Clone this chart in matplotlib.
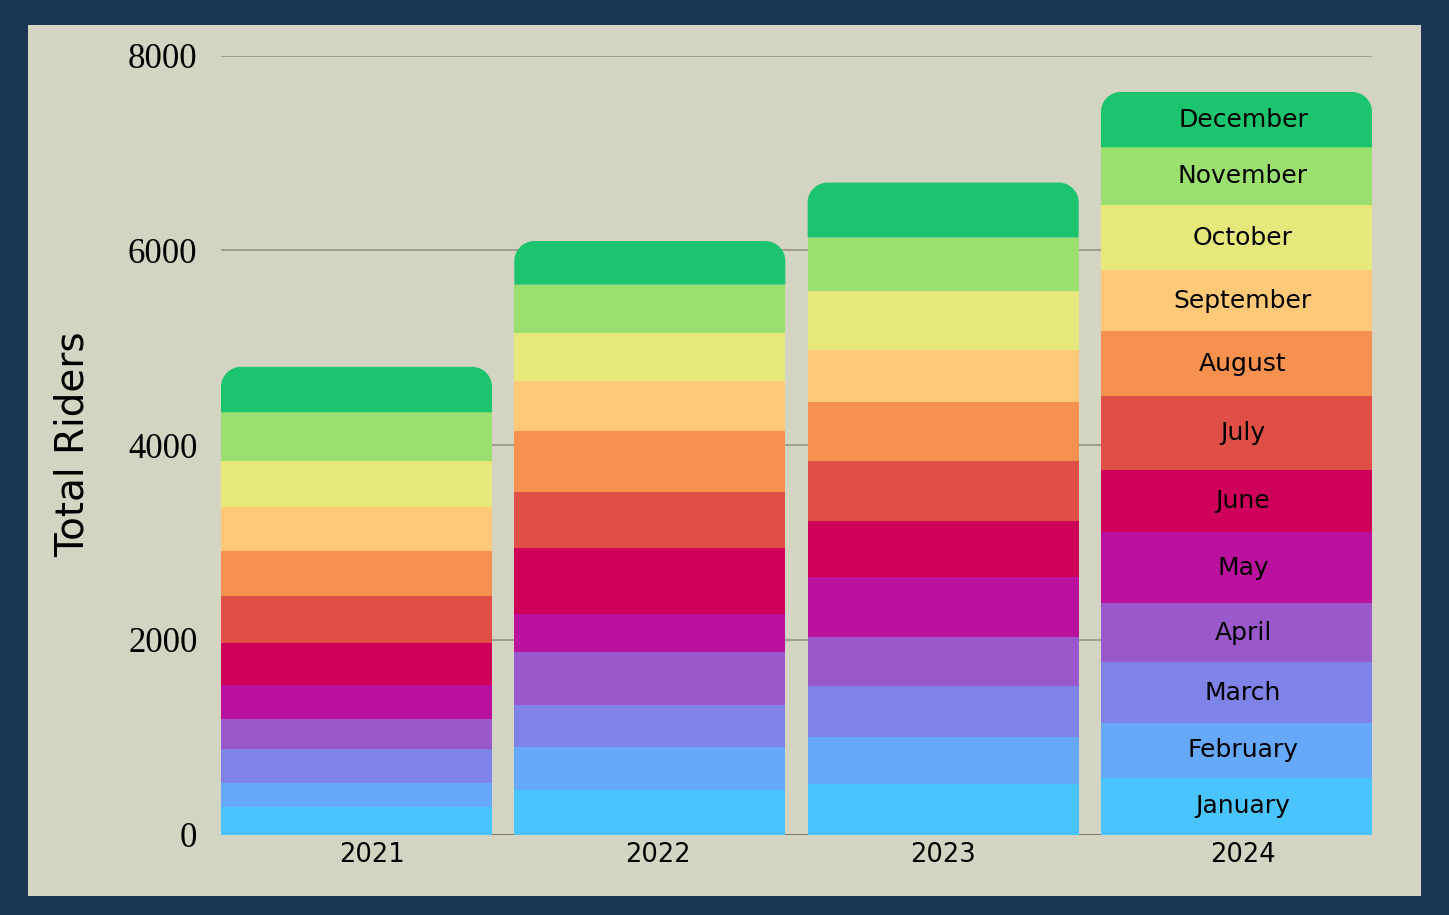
import matplotlib.pyplot as plt
from matplotlib.path import Path
from matplotlib.patches import PathPatch, Rectangle
from matplotlib.transforms import ScaledTranslation
import numpy as np

years = ["2021", "2022", "2023", "2024"]
months = ["January", "February", "March", "April", "May", "June",
          "July", "August", "September", "October", "November", "December"]

# riders per month, one list per year
riders_2021 = [285, 247, 350, 306, 352, 432, 473, 463, 460, 473, 496, 467]
riders_2022 = [456, 440, 432, 548, 388, 680, 576, 624, 512, 496, 496, 448]
riders_2023 = [518, 482, 522, 504, 614, 579, 614, 614, 535, 606, 544, 565]
riders_2024 = [584, 566, 617, 613, 723, 638, 761, 668, 624, 669, 596, 569]

colors = ["#4AC4FE", "#66A8F9", "#7F82E6", "#9A59CB", "#BA119E", "#CF0059",
          "#DF4F46", "#F69150", "#FFC977", "#E6E87B", "#9BE06F", "#1CC46D"]

data = np.array([riders_2021, riders_2022, riders_2023, riders_2024])

W, H = 1449, 915
fig = plt.figure(figsize=(W / 100, H / 100), dpi=100, facecolor="#1B3654")
fig.add_artist(Rectangle((28 / W, 19 / H), (1421 - 28) / W, (896 - 24.5) / H,
                         transform=fig.transFigure, facecolor="#D3D4C1",
                         edgecolor="none", zorder=0))

ax = fig.add_axes([221 / W, 1 - 834.5 / H, (1372 - 221) / W, (834.5 - 55.7) / H])
ax.set_facecolor("none")
ax.set_xlim(-0.462, 3.462)
ax.set_ylim(0, 8000)

for v in [2000, 4000, 6000, 8000]:
    ax.axhline(v, color="#9d9e8f", lw=1.4, zorder=0)
ax.axhline(0, color="#7d776a", lw=1.4, zorder=0)

x = np.arange(len(years))
width = 0.924
bottom = np.zeros(len(years))
bars_top = None
for i, m in enumerate(months):
    bars = ax.bar(x, data[:, i], width, bottom=bottom, color=colors[i],
                  linewidth=0, zorder=2)
    if i == len(months) - 1:
        bars_top = bars
    bottom += data[:, i]


def rounded_top(x0, x1, y0, y1, rx, ry):
    k = 0.5523
    verts = [(x0, y0), (x0, y1 - ry), (x0, y1 - ry + k * ry),
             (x0 + rx - k * rx, y1), (x0 + rx, y1), (x1 - rx, y1),
             (x1 - rx + k * rx, y1), (x1, y1 - ry + k * ry), (x1, y1 - ry),
             (x1, y0), (x0, y0)]
    codes = [Path.MOVETO, Path.LINETO, Path.CURVE4, Path.CURVE4, Path.CURVE4,
             Path.LINETO, Path.CURVE4, Path.CURVE4, Path.CURVE4, Path.LINETO,
             Path.CLOSEPOLY]
    return Path(verts, codes)


# swap the top segment for one with rounded corners (~20 px radius)
rx = 20 / (1151 / (3.462 + 0.462))
ry = 20 / ((834.5 - 55.7) / 8000)
for r in bars_top:
    r.set_visible(False)
    x0, y0 = r.get_x(), r.get_y()
    p = rounded_top(x0, x0 + r.get_width(), y0, y0 + r.get_height(), rx, ry)
    ax.add_patch(PathPatch(p, facecolor=r.get_facecolor(), lw=0, zorder=2))

font = "DejaVu Sans"


def px_shift(dx, dy=0):
    return ax.transData + ScaledTranslation(dx / 100, dy / 100, fig.dpi_scale_trans)


# month names on the last bar (sit a few px right of centre, as in the original)
cum = np.cumsum(data[-1]) - data[-1]
for i, m in enumerate(months):
    ax.text(x[-1], cum[i] + data[-1][i] / 2, m, ha="center", va="center",
            fontsize=18, family=font, color="black", zorder=3,
            transform=px_shift(6.5))

# year labels under the bars, with the original's small horizontal offsets
ax.set_xticks([])
label_dx = [15.5, 8.5, 0, 6.5]
for xi, yr, dx in zip(x, years, label_dx):
    ax.text(xi, 0, yr, ha="center", va="top", fontsize=18.5, family=font,
            color="black", transform=px_shift(dx, -7), clip_on=False)

ax.set_yticks([0, 2000, 4000, 6000, 8000])
ax.set_yticklabels(["0", "2000", "4000", "6000", "8000"],
                   fontsize=25, family="Liberation Serif")
ax.tick_params(length=0)
ax.tick_params(axis="y", pad=17)
for s in ax.spines.values():
    s.set_visible(False)

fig.text(73 / W, 1 - 444 / H, "Total Riders", rotation=90, ha="center",
         va="center", fontsize=28, family=font)

plt.savefig("out.png", dpi=100, facecolor=fig.get_facecolor())
